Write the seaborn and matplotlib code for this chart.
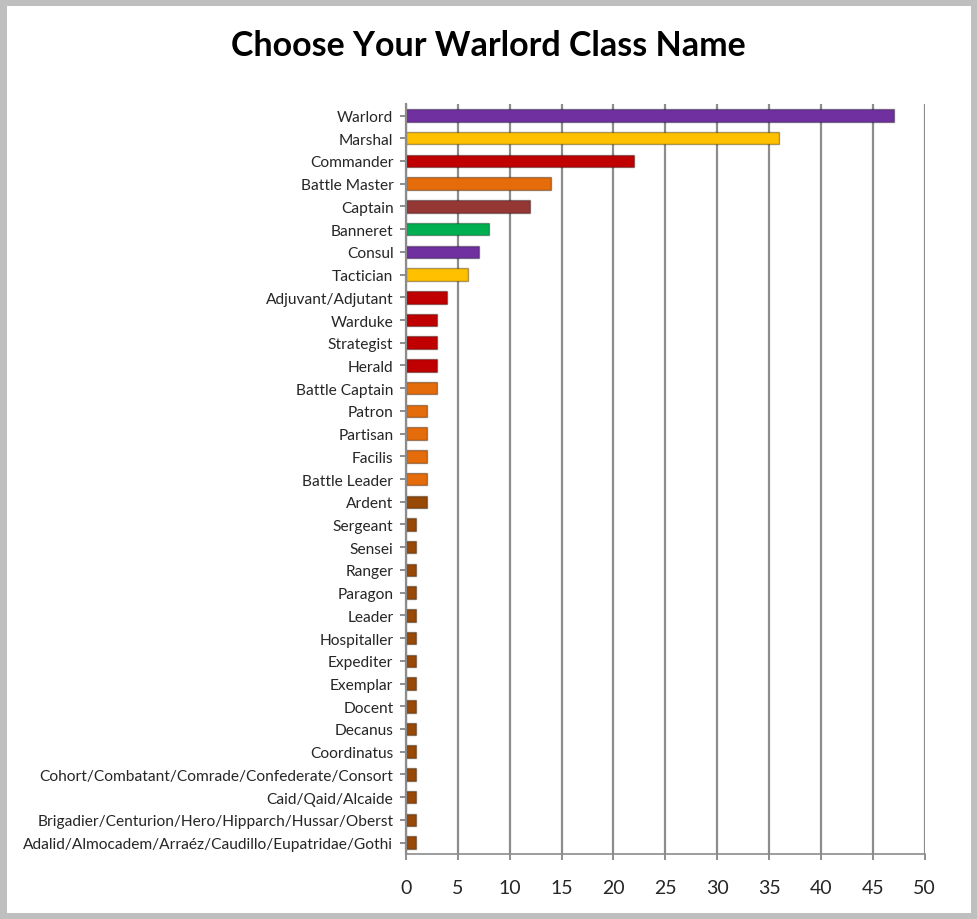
import matplotlib
matplotlib.use("Agg")
import matplotlib.pyplot as plt
import seaborn as sns
import pandas as pd

names = ["Warlord", "Marshal", "Commander", "Battle Master", "Captain", "Banneret",
         "Consul", "Tactician", "Adjuvant/Adjutant", "Warduke", "Strategist", "Herald",
         "Battle Captain", "Patron", "Partisan", "Facilis", "Battle Leader", "Ardent",
         "Sergeant", "Sensei", "Ranger", "Paragon", "Leader", "Hospitaller", "Expediter",
         "Exemplar", "Docent", "Decanus", "Coordinatus",
         "Cohort/Combatant/Comrade/Confederate/Consort", "Caid/Qaid/Alcaide",
         "Brigadier/Centurion/Hero/Hipparch/Hussar/Oberst",
         "Adalid/Almocadem/Arraéz/Caudillo/Eupatridae/Gothi"]
votes = [47, 36, 22, 14, 12, 8, 7, 6, 4, 3, 3, 3, 3, 2, 2, 2, 2, 2,
         1, 1, 1, 1, 1, 1, 1, 1, 1, 1, 1, 1, 1, 1, 1]
bar_colors = ["#7030A0", "#FFC000", "#C00000", "#E46C0A", "#953735", "#00B050",
              "#7030A0", "#FFC000", "#C00000", "#C00000", "#C00000", "#C00000",
              "#E46C0A", "#E46C0A", "#E46C0A", "#E46C0A", "#E46C0A", "#984807"] + ["#984807"] * 15
x_ticks = [0, 5, 10, 15, 20, 25, 30, 35, 40, 45, 50]

df = pd.DataFrame({"name": names, "votes": votes})

sns.set_theme(style="white")
plt.rcParams['font.family'] = ['Lato', 'DejaVu Sans']

fig = plt.figure(figsize=(9.77, 9.2), dpi=100, facecolor="white",
                 edgecolor="#BFBFBF", linewidth=8)
ax = fig.add_axes([0.4155, 0.0707, 0.531, 0.815])

sns.barplot(data=df, x="votes", y="name", hue="name", palette=bar_colors,
            legend=False, width=0.55, ax=ax, saturation=1,
            edgecolor="#00000055", linewidth=1.0)

ax.set_xlim(0, 50)
ax.set_xticks(x_ticks)
ax.set_xticklabels([str(t) for t in x_ticks], fontsize=14)
ax.tick_params(axis="x", pad=14, length=4, color="#808080", bottom=True, direction="out")
ax.tick_params(axis="y", labelsize=11.2, length=4, color="#808080", left=True, pad=5)
ax.grid(axis="x", color="#8C8C8C", linewidth=1.6)
ax.set_axisbelow(True)
for s in ["top", "right"]:
    ax.spines[s].set_visible(False)
ax.spines["left"].set_color("#8C8C8C")
ax.spines["bottom"].set_color("#8C8C8C")
ax.spines["left"].set_linewidth(1.6)
ax.spines["bottom"].set_linewidth(1.2)
ax.set_xlabel("")
ax.set_ylabel("")

fig.text(0.5, 0.950, "Choose Your Warlord Class Name", ha="center", va="center",
         fontsize=24.5, fontweight="bold", color="black")

fig.savefig("out.png", dpi=100, facecolor="white", edgecolor="#BFBFBF")
